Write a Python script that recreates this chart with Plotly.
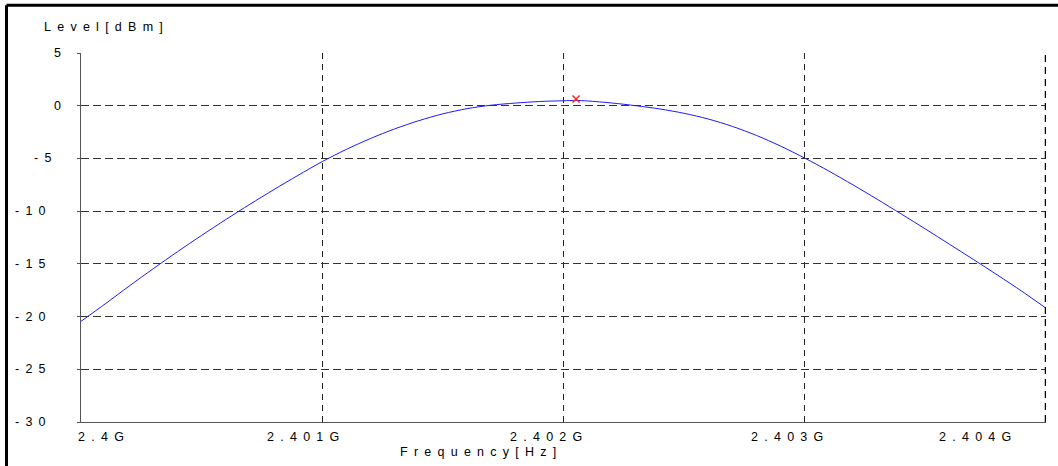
import plotly.graph_objects as go

# Measured spectrum: frequency (GHz) vs level (dBm)
freq_ghz = [
    2.4000, 2.4001, 2.4002, 2.4003, 2.4004, 2.4005, 2.4006, 2.4007, 2.4008, 2.4009,
    2.4010, 2.4011, 2.4012, 2.4013, 2.4014, 2.4015, 2.4016, 2.4017, 2.4018, 2.4019,
    2.4020, 2.40205, 2.4021, 2.4022, 2.4023, 2.4024, 2.4025, 2.4026, 2.4027, 2.4028,
    2.4029, 2.4030, 2.4031, 2.4032, 2.4033, 2.4034, 2.4035, 2.4036, 2.4037, 2.4038,
    2.4039, 2.4040,
]
level_dbm = [
    -20.45, -18.8, -17.1, -15.45, -13.85, -12.3, -10.8, -9.35, -7.95, -6.6,
    -5.3, -4.14, -3.11, -2.2, -1.42, -0.77, -0.28, 0.05, 0.25, 0.4,
    0.47, 0.5, 0.45, 0.26, 0.0, -0.31, -0.72, -1.26, -1.96, -2.82,
    -3.83, -4.97, -6.2, -7.51, -8.87, -10.27, -11.69, -13.14, -14.6, -16.08,
    -17.6, -19.2,
]

# Peak marker
marker_freq_ghz = [2.402052]
marker_level_dbm = [0.64]

# Axis ticks
x_tick_vals = [2.400, 2.401, 2.402, 2.403, 2.404]
x_tick_text = ["2.4G", "2.401G", "2.402G", "2.403G", "2.404G"]
y_tick_vals = [5, 0, -5, -10, -15, -20, -25, -30]
y_tick_text = ["5", "0", "-5", "-10", "-15", "-20", "-25", "-30"]

x_title = "Frequency [Hz]"
y_title = "Level [dBm]"

FONT = "Liberation Sans, Arial, sans-serif"
SEP = "\u2002"
PLOT_W = 965  # plot-area width in px (1058 - 81 - 12)


def spaced(s):
    # wide, evenly tracked lettering
    return SEP.join(s.replace(" ", ""))


fig = go.Figure()
fig.add_trace(go.Scatter(
    x=freq_ghz, y=level_dbm, mode="lines",
    line=dict(color="#1a1aff", width=1, shape="spline", smoothing=0.8),
    hoverinfo="skip", showlegend=False,
))
fig.add_trace(go.Scatter(
    x=marker_freq_ghz, y=marker_level_dbm, mode="markers",
    marker=dict(symbol="x-thin", size=7, line=dict(color="#ff2020", width=1.5)),
    hoverinfo="skip", showlegend=False,
))

text_font = dict(family=FONT, size=12.5, color="#000")
annotations = []
# x tick labels, offset horizontally from their tick positions
x_label_shift = [20, -19, -17.5, -18, -71.5]
for v, t, dx in zip(x_tick_vals, x_tick_text, x_label_shift):
    annotations.append(dict(
        x=v, xref="x", y=0, yref="paper", yshift=-15,
        text=spaced(t), showarrow=False, xanchor="center", yanchor="middle",
        xshift=dx, font=text_font,
    ))
# y tick labels: right edge in px left of the axis, by label width
y_label_right_px = {1: 18, 2: 28, 3: 33}
for v, t in zip(y_tick_vals, y_tick_text):
    annotations.append(dict(
        x=-y_label_right_px[len(t)] / PLOT_W, xref="paper", y=v, yref="y",
        text=spaced(t), showarrow=False, xanchor="right", yanchor="middle",
        font=text_font,
    ))
# axis titles
annotations.append(dict(
    x=0, xref="paper", y=1, yref="paper", xshift=22, yshift=26,
    text=spaced(y_title), showarrow=False, xanchor="center", yanchor="middle",
    font=text_font,
))
annotations.append(dict(
    x=0, xref="paper", y=0, yref="paper", xshift=397, yshift=-30,
    text=spaced(x_title), showarrow=False, xanchor="center", yanchor="middle",
    font=text_font,
))

shapes = [
    # right edge of the plot area, heavier dashed line
    dict(type="line", xref="x", yref="paper", x0=2.404, x1=2.404, y0=0, y1=1,
         line=dict(color="#000", width=2.5, dash="7px,5px")),
    # outer frame (top and left)
    dict(type="line", xref="paper", yref="paper", x0=-0.0772, x1=1.02, y0=1.1293, y1=1.1293,
         line=dict(color="#000", width=3)),
    dict(type="line", xref="paper", yref="paper", x0=-0.0772, x1=-0.0772, y0=1.1293, y1=-0.2,
         line=dict(color="#000", width=3)),
]

fig.update_layout(
    width=1058, height=466,
    margin=dict(l=81, r=12, t=53, b=44),
    paper_bgcolor="white", plot_bgcolor="white",
    annotations=annotations, shapes=shapes,
    hovermode=False,
)
fig.update_xaxes(
    range=[2.400, 2.404], tickvals=x_tick_vals[1:-1], showticklabels=False,
    showgrid=True, gridcolor="#222", gridwidth=1, griddash="6px,5px",
    showline=True, linecolor="#555", linewidth=1, zeroline=False, ticks="",
)
fig.update_yaxes(
    range=[-30, 5], tickvals=y_tick_vals, showticklabels=False,
    showgrid=True, gridcolor="#333", gridwidth=1, griddash="8px,4px",
    showline=True, linecolor="#555", linewidth=1, zeroline=False,
    ticks="outside", ticklen=3, tickcolor="#555",
)

fig.write_html("out.html", config={"displayModeBar": False})
